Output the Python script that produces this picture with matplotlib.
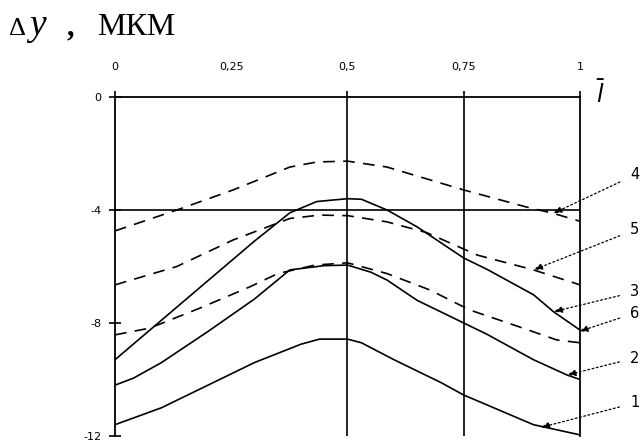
import matplotlib
matplotlib.use("Agg")
import matplotlib.pyplot as plt

# ---- data ----
x1 = [0, 0.1, 0.2, 0.3, 0.4, 0.44, 0.5, 0.53, 0.6, 0.7, 0.75, 0.8, 0.9, 1.0]
y1 = [-11.6, -11.0, -10.2, -9.4, -8.75, -8.57, -8.57, -8.7, -9.3, -10.1, -10.55, -10.9, -11.6, -11.96]

x2 = [0, 0.04, 0.1, 0.2, 0.3, 0.376, 0.45, 0.5, 0.55, 0.585, 0.65, 0.75, 0.8, 0.9, 0.972, 1.0]
y2 = [-10.2, -9.95, -9.4, -8.3, -7.15, -6.12, -5.97, -5.95, -6.2, -6.48, -7.2, -8.0, -8.4, -9.3, -9.84, -10.0]

x3 = [0, 0.1, 0.2, 0.3, 0.376, 0.434, 0.5, 0.53, 0.585, 0.65, 0.75, 0.8, 0.9, 0.943, 1.0]
y3 = [-9.3, -7.9, -6.5, -5.1, -4.1, -3.7, -3.6, -3.62, -4.0, -4.6, -5.7, -6.1, -7.0, -7.6, -8.25]

x4 = [0, 0.133, 0.254, 0.376, 0.434, 0.5, 0.585, 0.75, 0.886, 0.943, 1.0]
y4 = [-4.74, -4.0, -3.29, -2.48, -2.3, -2.27, -2.48, -3.29, -3.9, -4.12, -4.4]

x5 = [0, 0.133, 0.254, 0.376, 0.44, 0.5, 0.585, 0.67, 0.78, 0.9, 1.0]
y5 = [-6.65, -6.0, -5.06, -4.3, -4.18, -4.2, -4.42, -4.8, -5.6, -6.12, -6.65]

x6 = [0, 0.075, 0.183, 0.29, 0.35, 0.43, 0.5, 0.585, 0.677, 0.763, 0.87, 0.95, 1.0]
y6 = [-8.42, -8.18, -7.47, -6.72, -6.25, -5.95, -5.87, -6.25, -6.83, -7.54, -8.14, -8.6, -8.7]

curve_labels = ["1", "2", "3", "4", "5", "6"]
label_y = [-10.83, -9.24, -6.9, -2.76, -4.7, -7.65]
target_x = [0.915, 0.972, 0.943, 0.942, 0.9, 0.998]
target_y = [-11.7, -9.84, -7.6, -4.12, -6.12, -8.3]

xticks = [0, 0.25, 0.5, 0.75, 1.0]
xtick_labels = ["0", "0,25", "0,5", "0,75", "1"]
yticks = [0, -4, -8, -12]
ytick_labels = ["0", "-4", "-8", "-12"]

# ---- figure ----
fig = plt.figure(figsize=(6.43, 4.48), dpi=100)
ax = fig.add_axes([115/643, 1-436/448, 465/643, 339/448])
ax.set_xlim(0, 1)
ax.set_ylim(-12, 0)

# grid lines
for gx in [0.5, 0.75]:
    ax.axvline(gx, color="k", lw=1.2, zorder=1)
ax.axhline(-4, color="k", lw=1.2, zorder=1)

dash = (0, (7, 5))
ax.plot(x1, y1, color="k", lw=1.2)
ax.plot(x2, y2, color="k", lw=1.2)
ax.plot(x3, y3, color="k", lw=1.2)
ax.plot(x4, y4, color="k", lw=1.2, ls=dash)
ax.plot(x5, y5, color="k", lw=1.2, ls=dash)
ax.plot(x6, y6, color="k", lw=1.2, ls=dash)

for lab, ly, tx, ty in zip(curve_labels, label_y, target_x, target_y):
    ax.annotate(lab, xy=(tx, ty), xytext=(1.118, ly), textcoords="data",
                fontsize=10.5, family="DejaVu Sans", va="center", ha="center",
                annotation_clip=False,
                arrowprops=dict(arrowstyle="-|>,head_length=0.5,head_width=0.18",
                                ls=(0, (1.5, 2)), color="k", lw=0.9,
                                shrinkA=6, shrinkB=0))

# spines
ax.spines["bottom"].set_visible(False)
for s in ["top", "left", "right"]:
    ax.spines[s].set_linewidth(1.3)

ax.xaxis.tick_top()
ax.set_xticks(xticks)
ax.set_xticklabels(xtick_labels, fontsize=8)
ax.tick_params(axis="x", direction="out", length=4, width=1.2, pad=14)
ax.xaxis.get_major_ticks()[1].tick2line.set_visible(False)
ax.set_yticks(yticks)
ax.set_yticklabels(ytick_labels, fontsize=8)
ax.tick_params(axis="y", direction="inout", length=8, width=1.2, pad=6)

base = 1 - 35/448
fig.text(9/643, base, "Δ", fontsize=19, family="Liberation Serif",
         va="baseline", ha="left")
fig.text(29/643, base, "y", fontsize=27, family="Liberation Serif", style="italic",
         va="baseline", ha="left")
fig.text(67/643, base, ",", fontsize=22, family="Liberation Serif", weight="bold",
         va="baseline", ha="left")
fig.text(97/643, base, "МКМ", fontsize=23, family="Liberation Serif",
         va="baseline", ha="left")
ax.text(1.045, 0.1, r"$\bar{l}$", fontsize=17, va="center", ha="center",
        transform=ax.transData)

fig.savefig("out.png", dpi=100)
